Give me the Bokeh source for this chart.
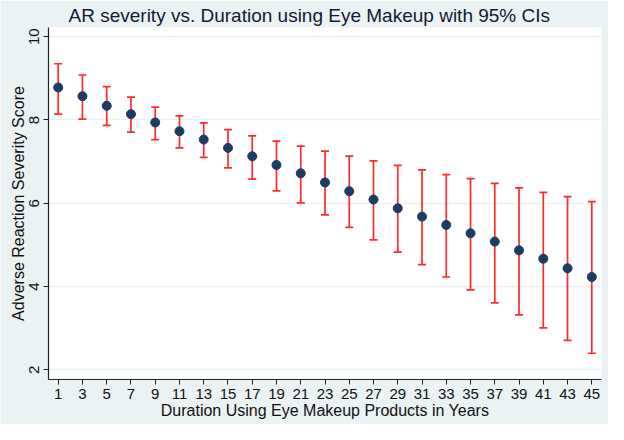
from bokeh.plotting import figure
from bokeh.embed import file_html
from bokeh.resources import INLINE
from bokeh.models import FixedTicker, Range1d, ColumnDataSource

years = [1, 3, 5, 7, 9, 11, 13, 15, 17, 19, 21, 23, 25, 27, 29, 31, 33, 35, 37, 39, 41, 43, 45]
severity = [8.78, 8.57, 8.34, 8.14, 7.94, 7.73, 7.53, 7.33, 7.13, 6.92, 6.72, 6.50,
            6.29, 6.09, 5.88, 5.68, 5.48, 5.28, 5.08, 4.87, 4.67, 4.44, 4.23]
ci_lower = [8.14, 8.02, 7.87, 7.71, 7.53, 7.33, 7.10, 6.85, 6.58, 6.30, 6.01, 5.72,
            5.42, 5.12, 4.83, 4.53, 4.23, 3.92, 3.61, 3.32, 3.01, 2.71, 2.40]
ci_upper = [9.35, 9.08, 8.80, 8.55, 8.31, 8.10, 7.93, 7.77, 7.62, 7.49, 7.37, 7.25,
            7.13, 7.02, 6.91, 6.80, 6.69, 6.59, 6.48, 6.37, 6.26, 6.16, 6.04]
y_ticks = [2, 4, 6, 8, 10]

FONT = "Liberation Sans"
BG = "#eaf2f3"

src = ColumnDataSource(dict(x=years, y=severity, lo=ci_lower, hi=ci_upper))

p = figure(width=608, height=424, output_backend="svg", toolbar_location=None,
           x_range=Range1d(0.2, 45.8), y_range=Range1d(1.77, 10.22),
           title="AR severity vs. Duration using Eye Makeup with 95% CIs",
           min_border_left=48, min_border_right=7, min_border_bottom=45, min_border_top=4)

p.background_fill_color = "white"
p.border_fill_color = BG
p.outline_line_color = None

p.title.text_font = FONT
p.title.text_font_size = "19px"
p.title.text_font_style = "normal"
p.title.text_color = "#141a33"
p.title.align = "left"
p.title.offset = 20
p.title.standoff = 4

# grid
p.xgrid.visible = False
p.ygrid.ticker = FixedTicker(ticks=y_ticks)
p.ygrid.grid_line_color = BG
p.ygrid.grid_line_width = 1.5

# axes
for ax in (p.xaxis[0], p.yaxis[0]):
    ax.axis_line_color = "#222222"
    ax.axis_line_width = 1.2
    ax.major_tick_line_color = "#222222"
    ax.major_tick_out = 5
    ax.major_tick_in = 0
    ax.minor_tick_line_color = None
    ax.major_label_text_font = FONT
    ax.major_label_text_font_size = "15px"
    ax.major_label_text_color = "#111111"
    ax.axis_label_text_font = FONT
    ax.axis_label_text_font_size = "16px"
    ax.axis_label_text_font_style = "normal"
    ax.axis_label_text_color = "#111111"

p.xaxis.ticker = FixedTicker(ticks=years)
p.xaxis.axis_label = "Duration Using Eye Makeup Products in Years"
p.xaxis.axis_label_standoff = 0
p.xaxis.major_label_standoff = 4

p.yaxis.ticker = FixedTicker(ticks=y_ticks)
p.yaxis.axis_label = "Adverse Reaction Severity Score"
p.yaxis.major_label_orientation = "vertical"
p.yaxis.axis_label_standoff = 0
p.yaxis.major_label_standoff = 4

# error bars
RED = "#ff2a2a"
p.segment(x0="x", y0="lo", x1="x", y1="hi", source=src, line_color=RED, line_width=1.7)
p.scatter(x="x", y="lo", source=src, marker="dash", size=8, line_color=RED, line_width=1.7)
p.scatter(x="x", y="hi", source=src, marker="dash", size=8, line_color=RED, line_width=1.7)

# points
p.scatter(x="x", y="y", source=src, marker="circle", size=9,
          fill_color="#1a3d64", line_color="#1a3d64")

open("out.html", "w").write(file_html(p, INLINE))
